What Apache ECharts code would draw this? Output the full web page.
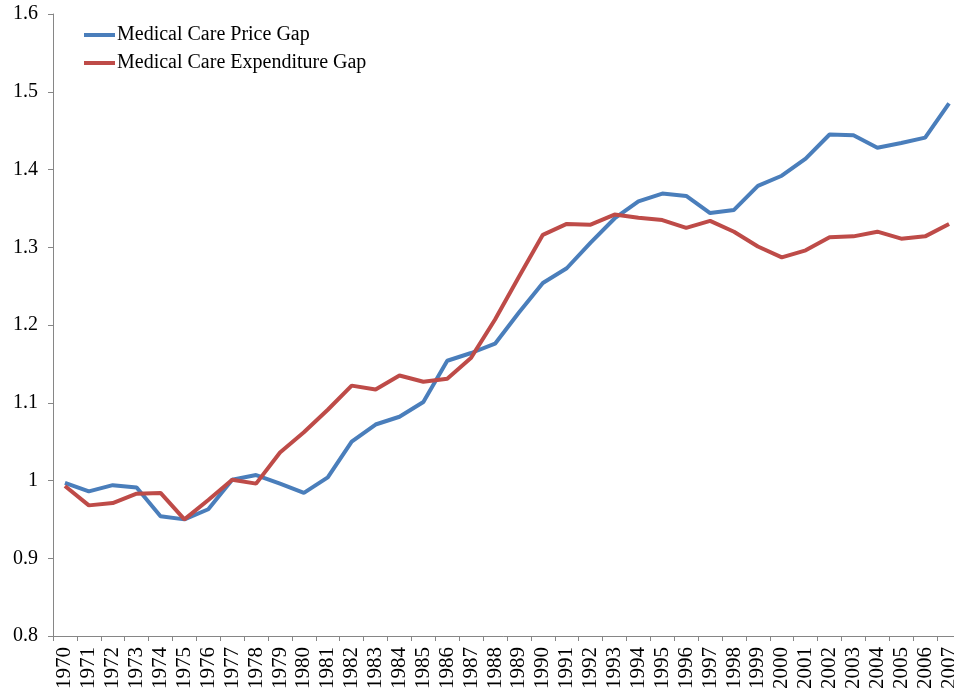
<!DOCTYPE html>
<html>
<head>
<meta charset="utf-8">
<script src="https://cdn.jsdelivr.net/npm/echarts@6/dist/echarts.min.js"></script>
<style>
  html, body { margin: 0; padding: 0; background: #fff; }
  #chart { width: 954px; height: 692px; }
</style>
</head>
<body>
<div id="chart"></div>
<script>
const years = [
  "1970", "1971", "1972", "1973", "1974", "1975", "1976", "1977", "1978", "1979",
  "1980", "1981", "1982", "1983", "1984", "1985", "1986", "1987", "1988", "1989",
  "1990", "1991", "1992", "1993", "1994", "1995", "1996", "1997", "1998", "1999",
  "2000", "2001", "2002", "2003", "2004", "2005", "2006", "2007"
];

const priceGap = [
  0.997, 0.986, 0.994, 0.991, 0.954, 0.950, 0.963, 1.001, 1.007, 0.996,
  0.984, 1.004, 1.050, 1.072, 1.082, 1.101, 1.154, 1.164, 1.176, 1.216,
  1.254, 1.273, 1.306, 1.337, 1.359, 1.369, 1.366, 1.344, 1.348, 1.379,
  1.392, 1.414, 1.445, 1.444, 1.428, 1.434, 1.441, 1.485
];

const expenditureGap = [
  0.993, 0.968, 0.971, 0.983, 0.984, 0.950, 0.975, 1.001, 0.996, 1.036,
  1.062, 1.091, 1.122, 1.117, 1.135, 1.127, 1.131, 1.158, 1.207, 1.262,
  1.316, 1.330, 1.329, 1.342, 1.338, 1.335, 1.325, 1.334, 1.320, 1.301,
  1.287, 1.296, 1.313, 1.314, 1.320, 1.311, 1.314, 1.330
];

const font = "Liberation Serif, Times New Roman, serif";
const axisGray = "#868686";

const chart = echarts.init(document.getElementById("chart"), null, { renderer: "canvas" });
chart.setOption({
  animation: false,
  color: ["#4a7ebb", "#be4b48"],
  legend: {
    orient: "vertical",
    left: 79,
    top: 20,
    icon: "rect",
    itemWidth: 31,
    itemHeight: 4,
    itemGap: 8,
    textStyle: { fontFamily: font, fontSize: 20, color: "#000", padding: [0, 0, 0, -3] },
    data: ["Medical Care Price Gap", "Medical Care Expenditure Gap"]
  },
  grid: { left: 53, top: 14, width: 908, height: 622, outerBoundsMode: "none" },
  xAxis: {
    type: "category",
    data: years,
    boundaryGap: true,
    axisLine: { lineStyle: { color: axisGray, width: 1 } },
    axisTick: { show: true, length: 5, interval: 0, lineStyle: { color: axisGray } },
    axisLabel: {
      interval: 0,
      rotate: 90,
      margin: 11,
      fontFamily: font,
      fontSize: 21,
      color: "#000"
    },
    splitLine: { show: false }
  },
  yAxis: {
    type: "value",
    min: 0.8,
    max: 1.6,
    interval: 0.1,
    axisLine: { show: true, lineStyle: { color: axisGray, width: 1 } },
    axisTick: { show: true, length: 5, lineStyle: { color: axisGray } },
    axisLabel: {
      margin: 15,
      fontFamily: font,
      fontSize: 20,
      color: "#000",
      formatter: (v) => String(Math.round(v * 10) / 10)
    },
    splitLine: { show: false }
  },
  series: [
    {
      name: "Medical Care Price Gap",
      type: "line",
      data: priceGap,
      symbol: "none",
      lineStyle: { width: 4, color: "#4a7ebb" }
    },
    {
      name: "Medical Care Expenditure Gap",
      type: "line",
      data: expenditureGap,
      symbol: "none",
      lineStyle: { width: 4, color: "#be4b48" }
    }
  ]
});
</script>
</body>
</html>
